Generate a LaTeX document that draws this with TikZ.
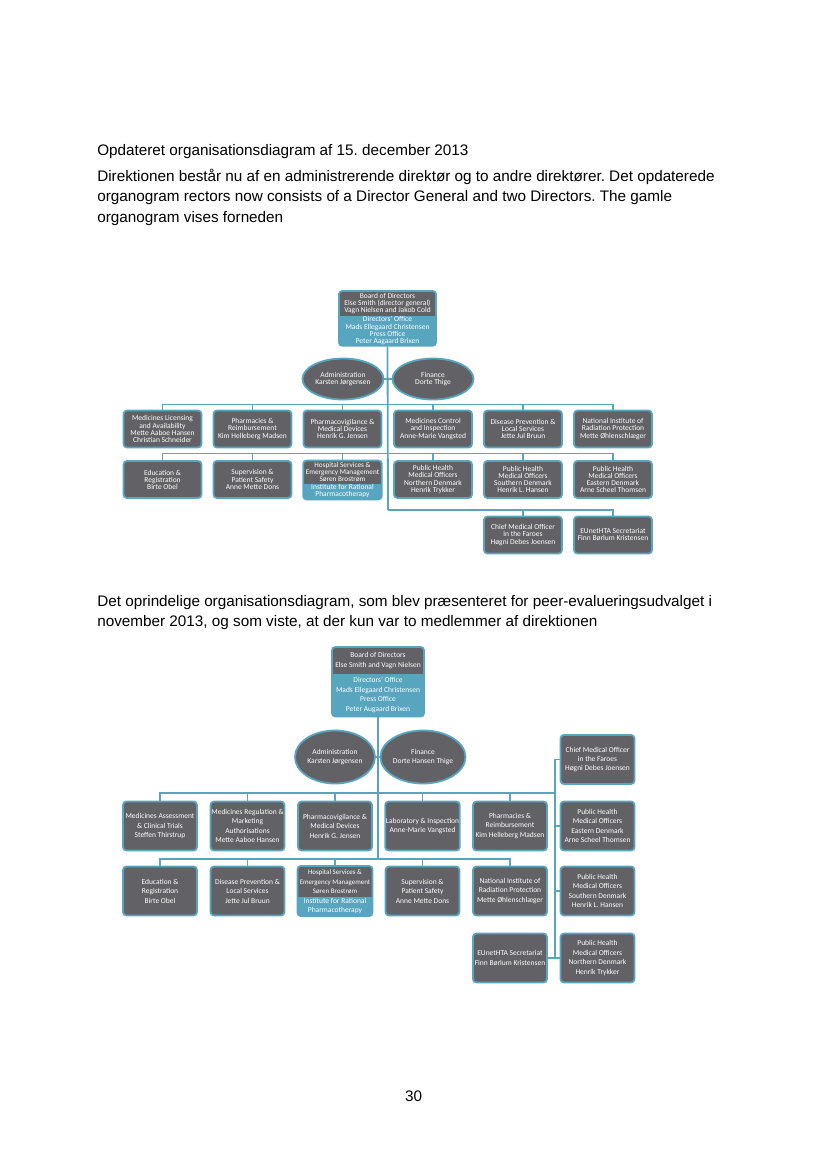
\documentclass[tikz,border=0pt]{standalone}
\usepackage{fontspec}
\setmainfont{Liberation Sans}
\newfontfamily\chartfont{Carlito}
\usetikzlibrary{positioning, fit, shapes.geometric}
\definecolor{DKMAGray}{HTML}{626266}
\definecolor{DKMATeal}{HTML}{58A5C0}
\newdimen\pix \pix=0.72pt
\newcommand{\orgfontA}{\chartfont\fontsize{5.4}{5.1}\selectfont}
\newcommand{\orgfontB}{\chartfont\fontsize{5.4}{6.8}\selectfont}
\frenchspacing
\begin{document}
\begin{tikzpicture}[
        x=0.72pt, y=-0.72pt,
        unit/.style={
            rectangle, rounded corners=2.5pt, draw=DKMATeal, line width=1.3pt,
            fill=DKMAGray, text=white, align=center, inner sep=0.5pt
        },
        unitA/.style={unit, minimum width=78\pix, minimum height=37\pix, font=\orgfontA},
        unitB/.style={unit, minimum width=74\pix, minimum height=49\pix, font=\orgfontB},
        staff/.style={ellipse, draw=DKMATeal, line width=1.3pt, fill=DKMAGray, text=white, align=center, inner sep=0pt},
        headpart/.style={rectangle, fill=DKMAGray, text=white, align=center, inner sep=0.5pt, outer sep=0pt},
        subpart/.style={rectangle, fill=DKMATeal, text=white, align=center, inner sep=0.5pt, outer sep=0pt},
        frame/.style={rectangle, rounded corners=2.5pt, draw=DKMATeal, line width=1.3pt, inner sep=0.4pt},
        link/.style={draw=DKMATeal, line width=1.3pt},
        para/.style={anchor=base west, inner sep=0pt, font=\fontsize{11}{13}\selectfont}
    ]

    \fill[white] (0,0) rectangle (827,1169);
    \useasboundingbox (0,0) rectangle (827,1169);

    % Text
    \node[para] (title1) at (97,155) {Opdateret organisationsdiagram af 15. december 2013};
    \node[para] (intro1) at (97,181) {Direktionen består nu af en administrerende direktør og to andre direktører. Det opdaterede};
    \node[para] (intro2) at (97,201.5) {organogram rectors now consists of a Director General and two Directors. The gamle};
    \node[para] (intro3) at (97,222) {organogram vises forneden};
    \node[para] (orig1) at (97,606) {Det oprindelige organisationsdiagram, som blev præsenteret for peer-evalueringsudvalget i};
    \node[para] (orig2) at (97,626.5) {november 2013, og som viste, at der kun var to medlemmer af direktionen};
    \node[para, anchor=base] (pageno) at (413.5,1101) {30};

    % Updated chart
    \node[headpart, anchor=north, minimum width=96\pix, minimum height=24.5\pix, font=\orgfontA] (brd1head) at (387.5,291.5) {
        Board of Directors\\Else Smith (director general)\\Vagn Nielsen and Jakob Cold
    };
    \node[subpart, below=0pt of brd1head, minimum width=96\pix, minimum height=29\pix, font=\orgfontA] (brd1sub) {
        Directors’ Office\\Mads Ellegaard Christensen\\Press Office\\Peter Aagaard Brixen
    };
    \node[frame, fit=(brd1head)(brd1sub)] (brd1) {};

    \node[staff, minimum width=81\pix, minimum height=41\pix, font=\orgfontA] (adm1) at (343,379) {Administration\\Karsten Jørgensen};
    \node[staff, minimum width=81\pix, minimum height=41\pix, font=\orgfontA] (fin1) at (433,379) {Finance\\Dorte Thige};

    \node[unitA] (lic1) at (162.5,429) {Medicines Licensing\\and Availability\\Mette Aaboe Hansen\\Christian Schneider};
    \node[unitA] (pha1) at (252.5,429) {Pharmacies \&\\Reimbursement\\Kim Helleberg Madsen};
    \node[unitA] (pvg1) at (342.5,429) {Pharmacovigilance \&\\Medical Devices\\Henrik G. Jensen};
    \node[unitA] (mci1) at (433,429) {Medicines Control\\and Inspection\\Anne-Marie Vangsted};
    \node[unitA] (dis1) at (523,429) {Disease Prevention \&\\Local Services\\Jette Jul Bruun};
    \node[unitA] (rad1) at (613,429) {National Institute of\\Radiation Protection\\Mette Øhlenschlæger};

    \node[unitA] (edu1) at (162.5,479.5) {Education \&\\Registration\\Birte Obel};
    \node[unitA] (sup1) at (252.5,479.5) {Supervision \&\\Patient Safety\\Anne Mette Dons};
    \node[headpart, anchor=north, minimum width=77.5\pix, minimum height=23\pix, font=\chartfont\fontsize{5.2}{5.1}\selectfont] (hos1head) at (342.5,461) {
        Hospital Services \&\\Emergency Management\\Søren Brostrøm
    };
    \node[subpart, below=0pt of hos1head, minimum width=77.5\pix, minimum height=14.5\pix, font=\orgfontA] (hos1sub) {
        Institute for Rational\\Pharmacotherapy
    };
    \node[frame, fit=(hos1head)(hos1sub)] (hos1) {};
    \node[unitA] (nor1) at (433,479.5) {Public Health\\Medical Officers\\Northern Denmark\\Henrik Trykker};
    \node[unitA] (sou1) at (523,479.5) {Public Health\\Medical Officers\\Southern Denmark\\Henrik L. Hansen};
    \node[unitA] (eas1) at (613,479.5) {Public Health\\Medical Officers\\Eastern Denmark\\Arne Scheel Thomsen};

    \node[unitA] (cmo1) at (523,535) {Chief Medical Officer\\in the Faroes\\Høgni Debes Joensen};
    \node[unitA] (eun1) at (613,535) {EUnetHTA Secretariat\\Finn Børlum Kristensen};

    \coordinate (bus11) at (388,404.5);
    \coordinate (bus12) at (388,453.5);
    \coordinate (bus13) at (388,510);

    % Lines of the updated chart
    \draw[link] (brd1.south) -- (bus13);
    \draw[link] (adm1.east) -- (fin1.west);
    \draw[link] (lic1.north) |- (bus11) -| (rad1.north);
    \draw[link] (pha1.north) -- (pha1.north |- bus11);
    \draw[link] (pvg1.north) -- (pvg1.north |- bus11);
    \draw[link] (mci1.north) -- (mci1.north |- bus11);
    \draw[link] (dis1.north) -- (dis1.north |- bus11);
    \draw[link] (edu1.north) |- (bus12) -| (eas1.north);
    \draw[link] (sup1.north) -- (sup1.north |- bus12);
    \draw[link] (hos1.north) -- (hos1.north |- bus12);
    \draw[link] (nor1.north) -- (nor1.north |- bus12);
    \draw[link] (sou1.north) -- (sou1.north |- bus12);
    \draw[link] (bus13) -| (eun1.north);
    \draw[link] (cmo1.north) -- (cmo1.north |- bus13);

    % Original chart
    \node[headpart, anchor=north, minimum width=91\pix, minimum height=26.5\pix, font=\orgfontB] (brd2head) at (378,647.5) {
        Board of Directors\\Else Smith and Vagn Nielsen
    };
    \node[subpart, below=0pt of brd2head, minimum width=91\pix, minimum height=42\pix, font=\orgfontB] (brd2sub) {
        Directors’ Office\\Mads Ellegaard Christensen\\Press Office\\Peter Augaard Brixen
    };
    \node[frame, fit=(brd2head)(brd2sub)] (brd2) {};

    \node[staff, minimum width=80\pix, minimum height=53\pix, font=\orgfontB] (adm2) at (335,757) {Administration\\Karsten Jørgensen};
    \node[staff, minimum width=80\pix, minimum height=53\pix, font=\orgfontB] (fin2) at (423,757) {Finance\\Dorte Hansen Thige};

    \node[unitB] (ass2) at (160,826) {Medicines Assessment\\\& Clinical Trials\\Steffen Thirstrup};
    \node[unitB] (reg2) at (247.5,826) {Medicines Regulation \&\\Marketing\\Authorisations\\Mette Aaboe Hansen};
    \node[unitB] (pvg2) at (335,826) {Pharmacovigilance \&\\Medical Devices\\Henrik G. Jensen};
    \node[unitB] (lab2) at (422.5,826) {Laboratory \& Inspection\\Anne-Marie Vangsted};
    \node[unitB] (pha2) at (510,826) {Pharmacies \&\\Reimbursement\\Kim Helleberg Madsen};

    \node[unitB] (edu2) at (160,891) {Education \&\\Registration\\Birte Obel};
    \node[unitB] (dis2) at (247.5,891) {Disease Prevention \&\\Local Services\\Jette Jul Bruun};
    \node[headpart, anchor=north, minimum width=74\pix, minimum height=30.5\pix, font=\chartfont\fontsize{5}{6.8}\selectfont] (hos2head) at (335,866.5) {
        Hospital Services \&\\Emergency Management\\Søren Brostrøm
    };
    \node[subpart, below=0pt of hos2head, minimum width=74\pix, minimum height=18.5\pix, font=\orgfontB] (hos2sub) {
        Institute for Rational\\Pharmacotherapy
    };
    \node[frame, fit=(hos2head)(hos2sub)] (hos2) {};
    \node[unitB] (sup2) at (422.5,891) {Supervision \&\\Patient Safety\\Anne Mette Dons};
    \node[unitB] (rad2) at (510,891) {National Institute of\\Radiation Protection\\Mette Øhlenschlæger};

    \node[unitB] (cmo2) at (597.5,759.5) {Chief Medical Officer\\in the Faroes\\Høgni Debes Joensen};
    \node[unitB] (eas2) at (597.5,826) {Public Health\\Medical Officers\\Eastern Denmark\\Arne Scheel Thomsen};
    \node[unitB] (sou2) at (597.5,891) {Public Health\\Medical Officers\\Southern Denmark\\Henrik L. Hansen};
    \node[unitB] (nor2) at (597.5,958) {Public Health\\Medical Officers\\Northern Denmark\\Henrik Trykker};
    \node[unitB] (eun2) at (510,958) {EUnetHTA Secretariat\\Finn Børlum Kristensen};

    \coordinate (bus21) at (378,793);
    \coordinate (bus22) at (378,859);
    \coordinate (rl) at (555,793);

    % Lines of the original chart
    \draw[link] (brd2.south) -- (bus22);
    \draw[link] (adm2.east) -- (fin2.west);
    \draw[link] (ass2.north) |- (rl);
    \draw[link] (reg2.north) -- (reg2.north |- bus21);
    \draw[link] (pvg2.north) -- (pvg2.north |- bus21);
    \draw[link] (lab2.north) -- (lab2.north |- bus21);
    \draw[link] (pha2.north) -- (pha2.north |- bus21);
    \draw[link] (edu2.north) |- (bus22) -| (rad2.north);
    \draw[link] (dis2.north) -- (dis2.north |- bus22);
    \draw[link] (hos2.north) -- (hos2.north |- bus22);
    \draw[link] (sup2.north) -- (sup2.north |- bus22);
    \draw[link] (cmo2.west) -- (cmo2.west -| rl) -- (nor2.west -| rl) -- (nor2.west);
    \draw[link] (eas2.west) -- (eas2.west -| rl);
    \draw[link] (sou2.west) -- (sou2.west -| rl);
    \draw[link] (eun2.east) -- (nor2.west);

\end{tikzpicture}
\end{document}
